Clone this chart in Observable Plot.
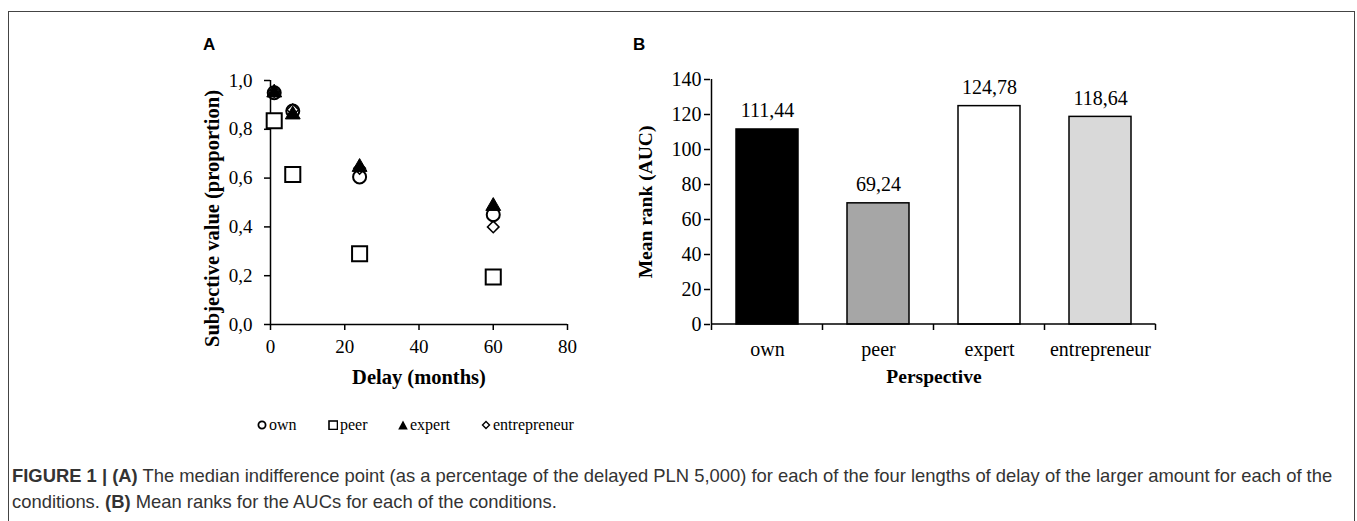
<!DOCTYPE html>
<html><head><meta charset="utf-8">
<script src="https://cdn.jsdelivr.net/npm/d3@7"></script>
<script src="https://cdn.jsdelivr.net/npm/@observablehq/plot@0.6"></script>
<style>
html,body{margin:0;padding:0;background:#fff;}
body{width:1357px;height:521px;overflow:hidden;position:relative;font-family:"Liberation Serif",serif;}
#frame{position:absolute;left:8px;top:11px;width:1347px;height:600px;border:1.5px solid #444;box-sizing:border-box;}
.panel{position:absolute;top:0;}
.letter{position:absolute;font-family:"Liberation Sans",Arial,sans-serif;font-weight:bold;font-size:17px;line-height:17px;}
.leg{position:absolute;top:416px;font-size:16px;line-height:18px;display:flex;align-items:center;white-space:nowrap;}
.leg svg{margin-right:2px;}
#caption{position:absolute;left:12px;top:463px;font-family:"Liberation Sans",Arial,sans-serif;font-size:18.4px;line-height:26px;color:#333;white-space:nowrap;}
</style></head><body>
<div id="frame"></div>
<div id="A" class="panel" style="left:0"></div>
<div id="B" class="panel" style="left:600px"></div>
<div class="letter" style="left:203px;top:36px">A</div>
<div class="letter" style="left:633px;top:36px">B</div>
<div id="legend"></div>
<div id="caption"><b>FIGURE 1 | (A)</b> The median indifference point (as a percentage of the delayed PLN 5,000) for each of the four lengths of delay of the larger amount for each of the<br>conditions. <b>(B)</b> Mean ranks for the AUCs for each of the conditions.</div>
<script>
// ---- Panel A data ----
const delays = [1, 6, 24, 60];
const own = [0.95, 0.875, 0.605, 0.45];
const peer = [0.835, 0.615, 0.29, 0.195];
const expert = [0.95, 0.86, 0.645, 0.485];
const entrepreneur = [0.955, 0.88, 0.64, 0.40];
const xTicksA = [0, 20, 40, 60, 80];
const yTicksA = [0, 0.2, 0.4, 0.6, 0.8, 1.0];
// ---- Panel B data ----
const perspectives = ["own", "peer", "expert", "entrepreneur"];
const meanRanks = [111.44, 69.24, 124.78, 118.64];
const barFills = ["#000000", "#a6a6a6", "#ffffff", "#d9d9d9"];
const yTicksB = [0, 20, 40, 60, 80, 100, 120, 140];
const legendLabels = ["own", "peer", "expert", "entrepreneur"];

const comma = (v, d) => v.toFixed(d).replace(".", ",");
const series = arr => delays.map((d, i) => ({delay: d, value: arr[i]}));

const styleBase = {fontFamily: "Liberation Serif", fontSize: "19px", color: "#000", background: "transparent", overflow: "visible"};

const plotA = Plot.plot({
  width: 600, height: 400,
  marginLeft: 270, marginRight: 33, marginTop: 80, marginBottom: 76,
  x: {domain: [0, 80]},
  y: {domain: [0, 1]},
  style: styleBase,
  marks: [
    Plot.axisX(xTicksA, {tickSize: 6, tickPadding: 9, strokeWidth: 1.5, fontSize: 19, label: null}),
    Plot.axisY(yTicksA, {tickSize: 6, tickPadding: 12, strokeWidth: 1.5, fontSize: 19, label: null, tickFormat: d => comma(d, 1)}),
    Plot.ruleX([0], {strokeWidth: 1.5}),
    Plot.ruleY([0], {strokeWidth: 1.5}),
    Plot.dot(series(own), {x: "delay", y: "value", symbol: "circle", r: 6.5, stroke: "#000", strokeWidth: 2, fill: "#fff"}),
    Plot.dot(series(peer), {x: "delay", y: "value", symbol: "square", r: 8.5, stroke: "#000", strokeWidth: 2, fill: "#fff"}),
    Plot.dot(series(expert), {x: "delay", y: "value", symbol: "triangle", r: 5.5, fill: "#000", stroke: "#000", strokeWidth: 1}),
    Plot.dot(series(entrepreneur), {x: "delay", y: "value", symbol: "diamond2", r: 5.2, stroke: "#000", strokeWidth: 1.5, fill: "none"}),
    Plot.text(["Subjective value (proportion)"], {frameAnchor: "left", textAnchor: "middle", dx: -58, dy: 16, rotate: -90, fontWeight: "bold", fontSize: 20.5}),
    Plot.text(["Delay (months)"], {frameAnchor: "bottom", dy: 59, fontWeight: "bold", fontSize: 20.5})
  ]
});
document.getElementById("A").append(plotA);

function bandTicks(index, scales, values, dims) {
  const x = scales.x, y = scales.y;
  const bw = x.bandwidth ? x.bandwidth() : 0;
  const xs = perspectives.map(c => x(c));
  const gap = xs[1] - xs[0] - bw;
  const bounds = xs.map(v => v - gap / 2);
  bounds.push(xs[xs.length - 1] + bw + gap / 2);
  const g = d3.create("svg:g").attr("stroke", "#000").attr("stroke-width", 1.5);
  const y0 = y(0);
  bounds.forEach(b => g.append("line").attr("x1", b).attr("x2", b).attr("y1", y0).attr("y2", y0 + 6));
  g.append("line").attr("x1", bounds[0]).attr("x2", bounds[0]).attr("y1", y0).attr("y2", y(yTicksB[yTicksB.length - 1]));
  g.append("line").attr("x1", bounds[0]).attr("x2", bounds[bounds.length - 1]).attr("y1", y0).attr("y2", y0);
  return g.node();
}

const barData = perspectives.map((p, i) => ({p, v: meanRanks[i], fill: barFills[i]}));
const plotB = Plot.plot({
  width: 600, height: 400,
  marginLeft: 110, marginRight: 43, marginTop: 79, marginBottom: 76,
  x: {domain: perspectives, paddingInner: 0.44, paddingOuter: 0.22},
  y: {domain: [0, 140]},
  style: {...styleBase, fontSize: "20px"},
  marks: [
    Plot.barY(barData, {x: "p", y: "v", fill: d => d.fill, stroke: "#000", strokeWidth: 1.5}),
    Plot.text(barData, {x: "p", y: "v", text: d => comma(d.v, 2), lineAnchor: "bottom", dy: -12, fontSize: 20}),
    Plot.axisY(yTicksB, {tickSize: 6, tickPadding: 3, strokeWidth: 1.5, fontSize: 20, label: null}),
    Plot.axisX({tickSize: 0, tickPadding: 17, fontSize: 20, label: null}),
    bandTicks,
    Plot.text(["Mean rank (AUC)"], {frameAnchor: "left", textAnchor: "middle", dx: -65, dy: 0, rotate: -90, fontWeight: "bold", fontSize: 19.5}),
    Plot.text(["Perspective"], {frameAnchor: "bottom", dy: 58, fontWeight: "bold", fontSize: 19.5})
  ]
});
document.getElementById("B").append(plotB);

// ---- Legend ----
const legendPos = [257, 328, 398, 481];
const icons = [
  '<circle cx="5" cy="5" r="3.6" fill="#fff" stroke="#000" stroke-width="1.8"/>',
  '<rect x="1" y="1" width="8.5" height="8.5" fill="#fff" stroke="#000" stroke-width="1.6"/>',
  '<path d="M5,0.5 L9.8,9.5 L0.2,9.5 Z" fill="#000"/>',
  '<path d="M5,1.5 L8.5,5 L5,8.5 L1.5,5 Z" fill="#fff" stroke="#000" stroke-width="1.4"/>'
];
const legend = document.getElementById("legend");
legendLabels.forEach((lab, i) => {
  const d = document.createElement("div");
  d.className = "leg";
  d.style.left = legendPos[i] + "px";
  d.innerHTML = `<svg width="10" height="10" viewBox="0 0 10 10">${icons[i]}</svg><span>${lab}</span>`;
  legend.append(d);
});
</script>
</body></html>
